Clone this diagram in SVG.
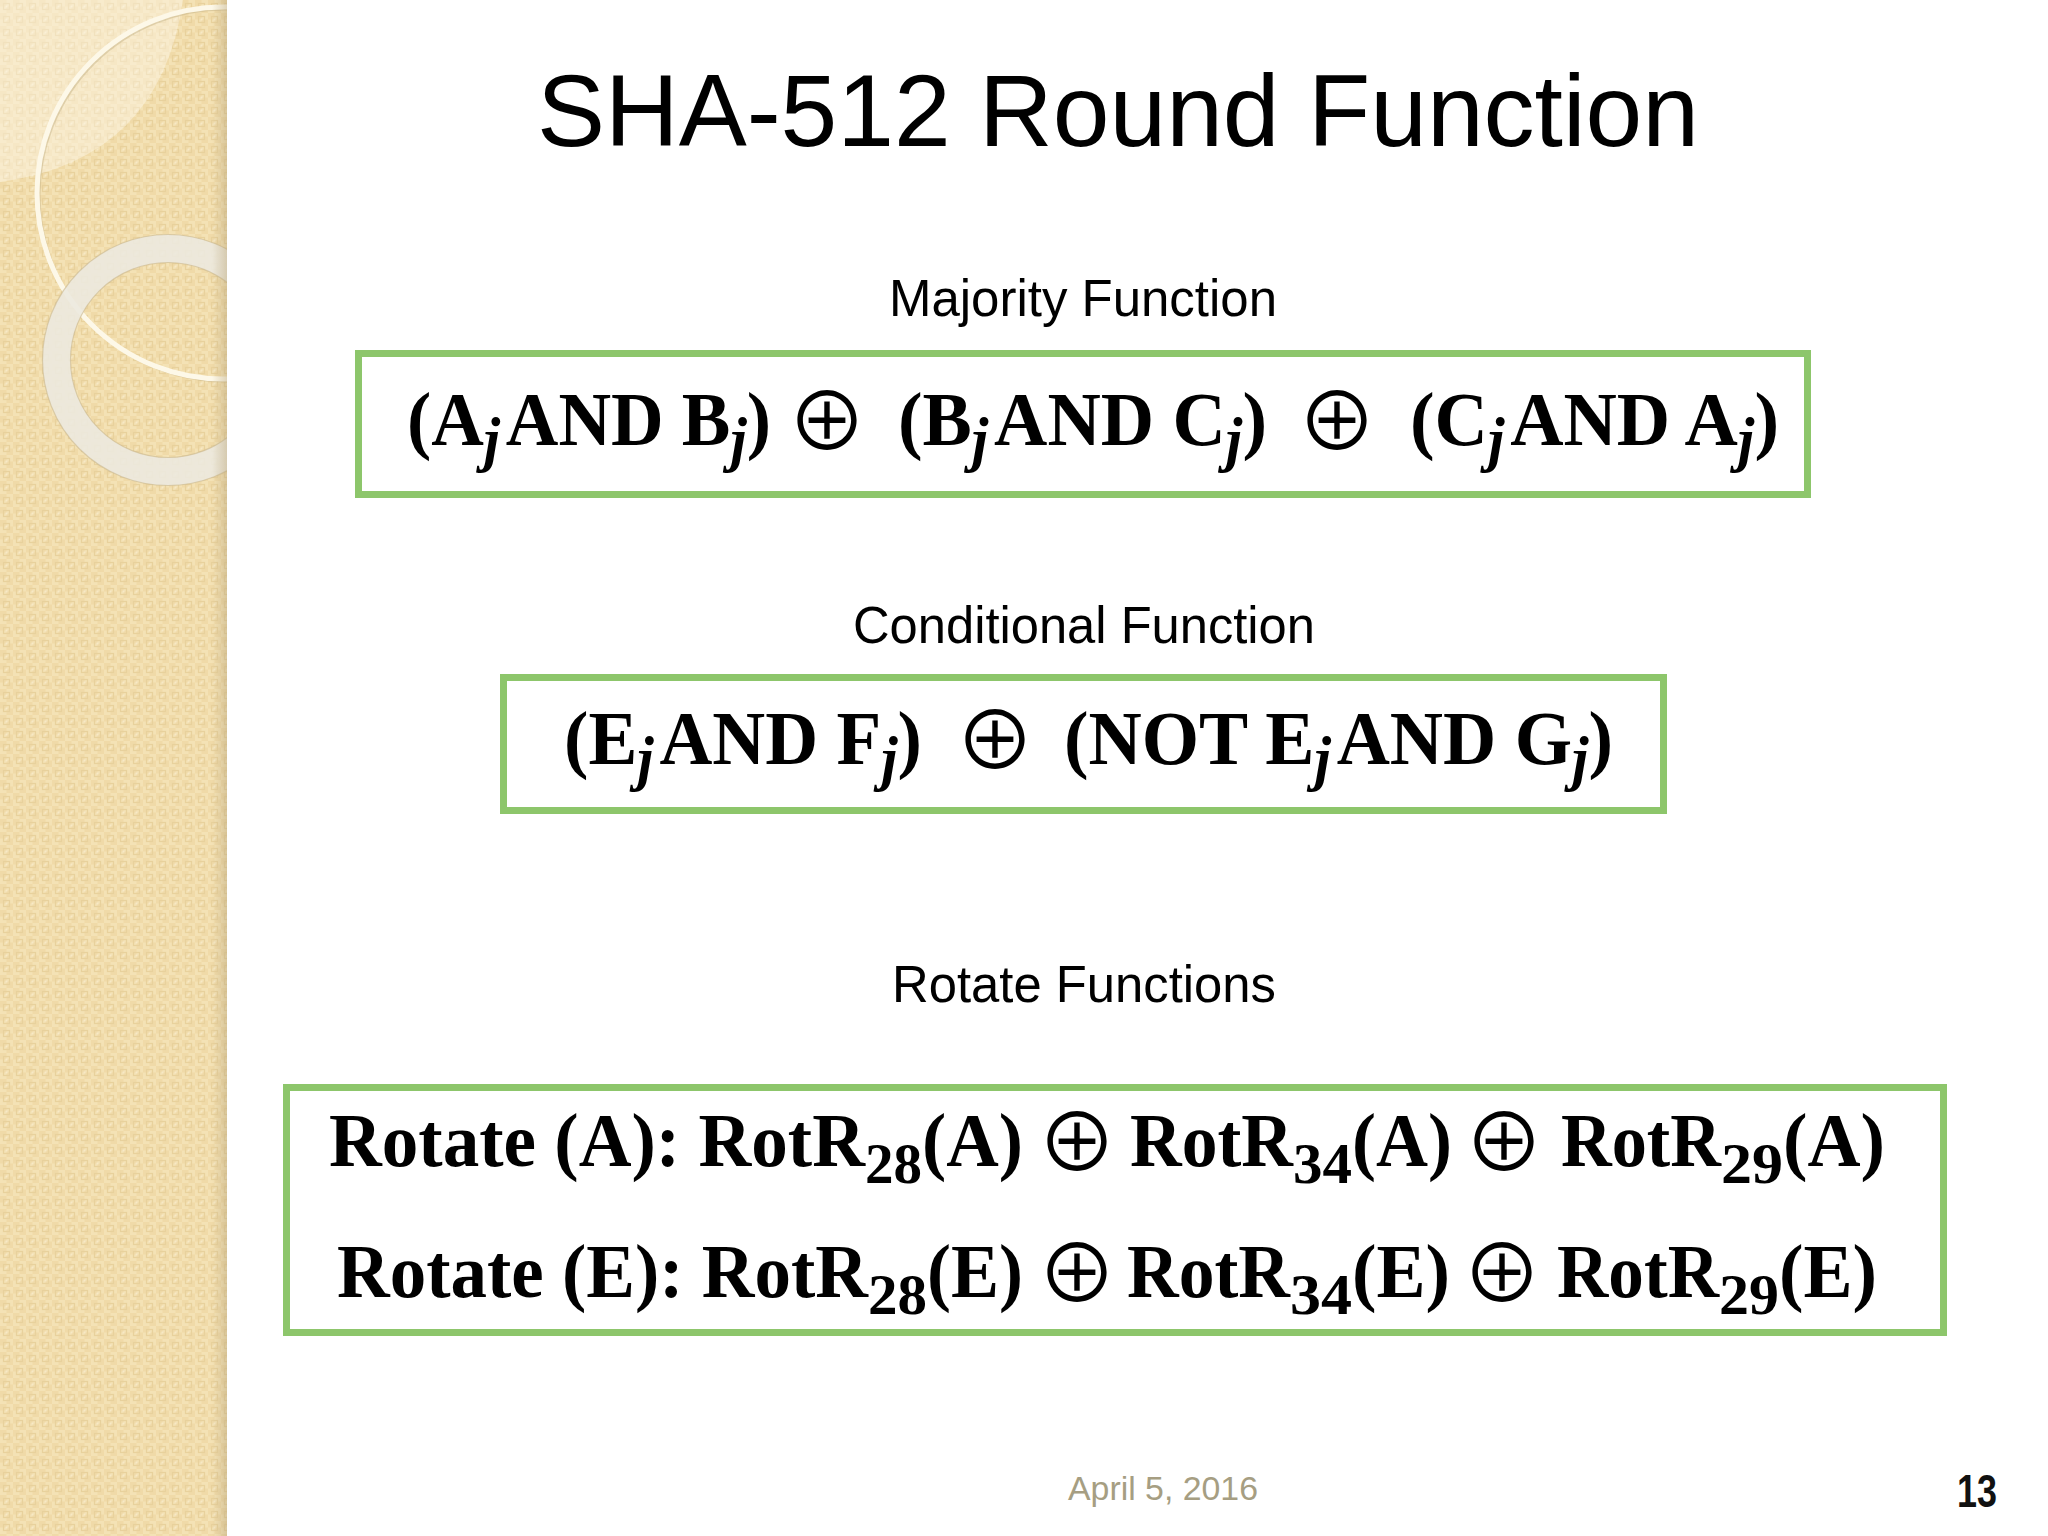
<svg xmlns="http://www.w3.org/2000/svg" width="2048" height="1536" viewBox="0 0 2048 1536">
<style>
.title{font-family:"Liberation Sans",Arial,sans-serif;font-size:102px;fill:#000}
.sub{font-family:"Liberation Sans",Arial,sans-serif;font-size:52px;fill:#000}
.f{font-family:"Liberation Serif","Times New Roman",serif;font-weight:bold;fill:#000}
.f1{font-size:77px}
.f3{font-size:76px}
.j{font-style:italic;font-size:62px}
.n{font-size:58px}
.op{font-family:"Noto Sans CJK JP","DejaVu Sans",sans-serif;font-size:80px;fill:#000;text-anchor:middle}
.box{fill:#fff;stroke:#8dc66b;stroke-width:7}
.date{font-family:"Liberation Sans",Arial,sans-serif;font-size:34px;fill:#a69e82}
.pg{font-family:"Liberation Sans Narrow","Liberation Sans",Arial,sans-serif;font-weight:bold;font-size:47px;fill:#111}
</style>
<defs>
<pattern id="tex" x="0" y="0" width="13" height="13" patternUnits="userSpaceOnUse">
<rect width="13" height="13" fill="#f4e2b5"/>
<rect x="0" y="0" width="6.5" height="6.5" fill="#f0daa8"/>
<rect x="6.5" y="6.5" width="6.5" height="6.5" fill="#f0daa8"/>
<rect x="3.5" y="3.5" width="6" height="6" fill="none" stroke="#e8d19c" stroke-width="1.2"/>
<rect x="5.5" y="5.5" width="2" height="2" fill="#f7e9c6"/>
</pattern>
<linearGradient id="edge" x1="0" y1="0" x2="1" y2="0">
<stop offset="0" stop-color="#b9a67c" stop-opacity="0"/>
<stop offset="1" stop-color="#b9a67c" stop-opacity="0.45"/>
</linearGradient>
<clipPath id="band"><rect x="0" y="0" width="227" height="1536"/></clipPath>
</defs>
<rect width="2048" height="1536" fill="#fff"/>
<g id="sidebar" clip-path="url(#band)">
<rect x="0" y="0" width="227" height="1536" fill="url(#tex)"/>
<path d="M0,0 H183 Q160,160 0,182 Z" fill="#fffaf0" opacity="0.4"/>
<circle cx="225" cy="195" r="186" fill="none" stroke="#c8b58a" stroke-width="3" opacity="0.5"/>
<circle cx="223" cy="193" r="186" fill="none" stroke="#fdf8e8" stroke-width="5"/>
<circle cx="168" cy="360" r="111.5" fill="none" stroke="#ece9df" stroke-width="28" opacity="0.9"/>
<circle cx="168" cy="360" r="125.5" fill="none" stroke="#c9b78d" stroke-width="1.2" opacity="0.6"/>
<circle cx="168" cy="360" r="97.5" fill="none" stroke="#c9b78d" stroke-width="1.2" opacity="0.6"/>
<rect x="212" y="0" width="15" height="1536" fill="url(#edge)"/>
</g>
<g id="title"><text class="title" x="537" y="146" textLength="1162" lengthAdjust="spacingAndGlyphs">SHA-512 Round Function</text></g>
<g id="majority">
<text class="sub" x="889" y="316" textLength="388" lengthAdjust="spacingAndGlyphs">Majority Function</text>
<rect class="box" x="358.5" y="353.5" width="1449" height="141"/>
<text class="f f1" x="407" y="445" textLength="364" lengthAdjust="spacingAndGlyphs">(A<tspan class="j" dy="15">j</tspan><tspan dx="6" dy="-15">AND B</tspan><tspan class="j" dy="15">j</tspan><tspan dy="-15">)</tspan></text>
<text class="op" x="827" y="450">⊕</text>
<text class="f f1" x="898" y="445" textLength="369" lengthAdjust="spacingAndGlyphs">(B<tspan class="j" dy="15">j</tspan><tspan dx="6" dy="-15">AND C</tspan><tspan class="j" dy="15">j</tspan><tspan dy="-15">)</tspan></text>
<text class="op" x="1337" y="450">⊕</text>
<text class="f f1" x="1410" y="445" textLength="369" lengthAdjust="spacingAndGlyphs">(C<tspan class="j" dy="15">j</tspan><tspan dx="6" dy="-15">AND A</tspan><tspan class="j" dy="15">j</tspan><tspan dy="-15">)</tspan></text>
</g>
<g id="conditional">
<text class="sub" x="853" y="643" textLength="462" lengthAdjust="spacingAndGlyphs">Conditional Function</text>
<rect class="box" x="503.5" y="677.5" width="1160" height="133"/>
<text class="f f1" x="564" y="764" textLength="358" lengthAdjust="spacingAndGlyphs">(E<tspan class="j" dy="15">j</tspan><tspan dx="6" dy="-15">AND F</tspan><tspan class="j" dy="15">j</tspan><tspan dy="-15">)</tspan></text>
<text class="op" x="995" y="769">⊕</text>
<text class="f f1" x="1064" y="764" textLength="549" lengthAdjust="spacingAndGlyphs">(NOT E<tspan class="j" dy="15">j</tspan><tspan dx="6" dy="-15">AND G</tspan><tspan class="j" dy="15">j</tspan><tspan dy="-15">)</tspan></text>
</g>
<g id="rotate">
<text class="sub" x="892" y="1002" textLength="384" lengthAdjust="spacingAndGlyphs">Rotate Functions</text>
<rect class="box" x="286.5" y="1087.5" width="1657" height="245"/>
<g id="rotate-a">
<text class="f f3" x="329" y="1166" textLength="536" lengthAdjust="spacingAndGlyphs">Rotate (A): RotR</text>
<text class="f n" x="865" y="1183" textLength="57" lengthAdjust="spacingAndGlyphs">28</text>
<text class="f f3" x="922" y="1166" textLength="101" lengthAdjust="spacingAndGlyphs">(A)</text>
<text class="op" x="1077" y="1171">⊕</text>
<text class="f f3" x="1130" y="1166" textLength="163" lengthAdjust="spacingAndGlyphs">RotR</text>
<text class="f n" x="1293" y="1183" textLength="59" lengthAdjust="spacingAndGlyphs">34</text>
<text class="f f3" x="1352" y="1166" textLength="100" lengthAdjust="spacingAndGlyphs">(A)</text>
<text class="op" x="1504" y="1171">⊕</text>
<text class="f f3" x="1561" y="1166" textLength="160" lengthAdjust="spacingAndGlyphs">RotR</text>
<text class="f n" x="1721" y="1183" textLength="62" lengthAdjust="spacingAndGlyphs">29</text>
<text class="f f3" x="1783" y="1166" textLength="102" lengthAdjust="spacingAndGlyphs">(A)</text>
</g>
<g id="rotate-e">
<text class="f f3" x="337" y="1297" textLength="531" lengthAdjust="spacingAndGlyphs">Rotate (E): RotR</text>
<text class="f n" x="868" y="1314" textLength="59" lengthAdjust="spacingAndGlyphs">28</text>
<text class="f f3" x="927" y="1297" textLength="96" lengthAdjust="spacingAndGlyphs">(E)</text>
<text class="op" x="1077" y="1302">⊕</text>
<text class="f f3" x="1127" y="1297" textLength="163" lengthAdjust="spacingAndGlyphs">RotR</text>
<text class="f n" x="1290" y="1314" textLength="62" lengthAdjust="spacingAndGlyphs">34</text>
<text class="f f3" x="1352" y="1297" textLength="98" lengthAdjust="spacingAndGlyphs">(E)</text>
<text class="op" x="1502" y="1302">⊕</text>
<text class="f f3" x="1557" y="1297" textLength="162" lengthAdjust="spacingAndGlyphs">RotR</text>
<text class="f n" x="1719" y="1314" textLength="60" lengthAdjust="spacingAndGlyphs">29</text>
<text class="f f3" x="1779" y="1297" textLength="98" lengthAdjust="spacingAndGlyphs">(E)</text>
</g>
</g>
<g id="connectors"/>
<g id="footer">
<text class="date" x="1068" y="1500" textLength="190" lengthAdjust="spacingAndGlyphs">April 5, 2016</text>
<text class="pg" x="1957" y="1507" textLength="40" lengthAdjust="spacingAndGlyphs">13</text>
</g>
</svg>
